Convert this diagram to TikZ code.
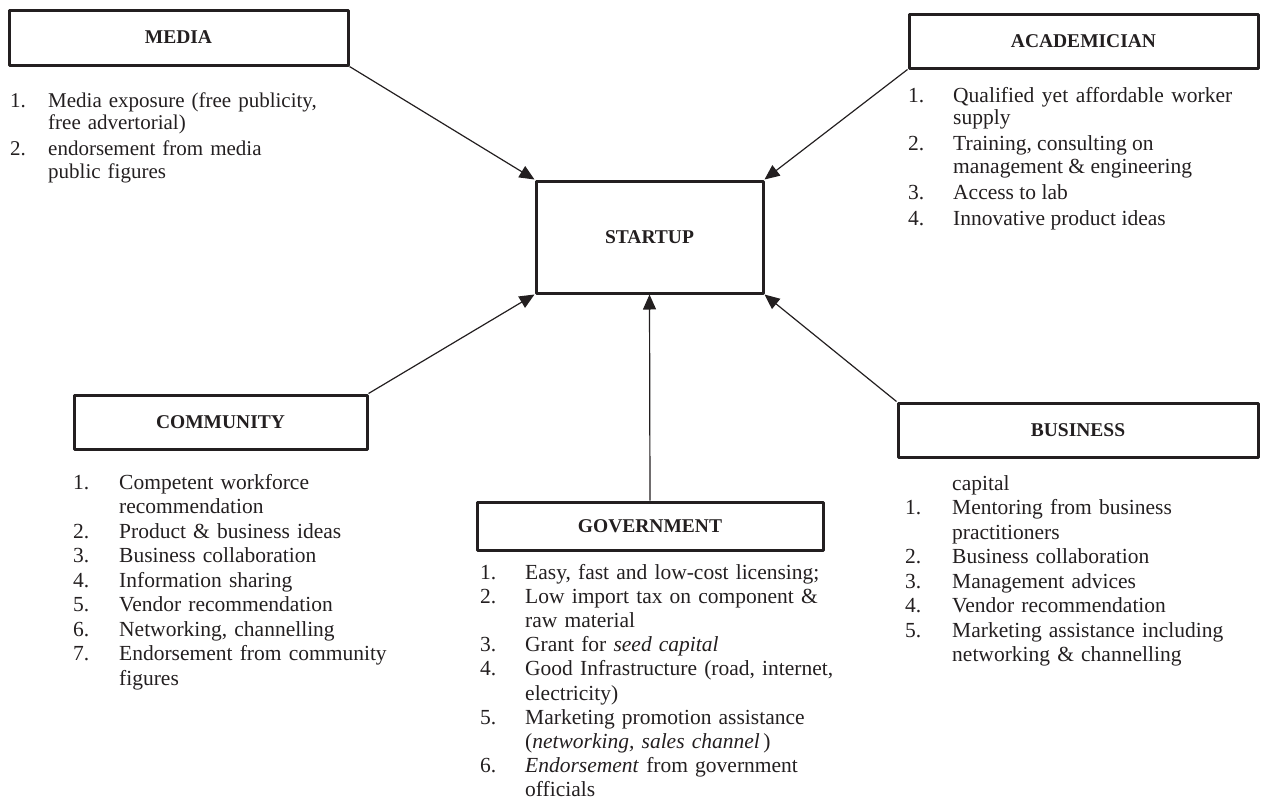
\documentclass[tikz,border=0pt]{standalone}
\usepackage{fontspec}
\setmainfont{Liberation Serif}
\usetikzlibrary{arrows.meta}
\definecolor{ink}{RGB}{35,31,32}
\newlength\labw
\newcommand\litem[2]{\noindent\hangindent=\labw\hangafter=1 \makebox[\labw][l]{#1}#2\par}
\begin{document}
\begin{tikzpicture}[x=1pt, y=-1pt, line join=round, >={Triangle[length=15pt,width=13pt]},
	actor/.style={draw=ink, line width=3pt, inner sep=0pt, text=ink, font=\fontsize{19.5}{22}\selectfont\bfseries},
	points/.style={anchor=base west, inner sep=0pt, text width=#1, align=left, text=ink, font=\fontsize{21.5}{24.5}\selectfont},
	link/.style={->, draw=ink, line width=1.2pt}]
	\useasboundingbox (0,0) rectangle (1261,803);
	\node[actor, minimum width=227pt, minimum height=112pt] (startup) at (649.5,237) {STARTUP};
	\node[actor, minimum width=339pt, minimum height=55pt] (media) at (178.5,37.5) {MEDIA};
	\node[actor, minimum width=349pt, minimum height=54pt] (acad) at (1083.5,41) {ACADEMICIAN};
	\node[actor, minimum width=293pt, minimum height=54pt] (comm) at (220.5,422) {COMMUNITY};
	\node[actor, minimum width=346pt, minimum height=48pt] (gov) at (650,526) {GOVERNMENT};
	\node[actor, minimum width=360pt, minimum height=54pt] (bus) at (1078,430) {BUSINESS};
	\draw[link] (media.south east) -- (startup.north west);
	\draw[link] (acad.south west) -- (startup.north east);
	\draw[link] (comm.north east) -- (startup.south west);
	\draw[link] (bus.north west) -- (startup.south east);
	\draw[link] (gov.north) -- (startup.south);
	\node[points=330pt, font=\fontsize{21}{22.5}\selectfont] (medialist) at (10,107) {\setlength\labw{38pt}\setlength\parskip{3.5pt}%
		\litem{1.}{Media exposure (free publicity,\newline free advertorial)}%
		\litem{2.}{endorsement from media\newline public figures}};
	\node[points=324pt, align=justify, font=\fontsize{21.5}{22.5}\selectfont] (acadlist) at (908,102) {\setlength\labw{45pt}\setlength\parskip{3.5pt}%
		\litem{1.}{Qualified yet affordable worker\linebreak supply}%
		\litem{2.}{Training, consulting on\newline management \& engineering}%
		\litem{3.}{Access to lab}%
		\litem{4.}{Innovative product ideas}};
	\node[points=330pt] (commlist) at (73,489) {\setlength\labw{46pt}%
		\litem{1.}{Competent workforce\newline recommendation}%
		\litem{2.}{Product \& business ideas}%
		\litem{3.}{Business collaboration}%
		\litem{4.}{Information sharing}%
		\litem{5.}{Vendor recommendation}%
		\litem{6.}{Networking, channelling}%
		\litem{7.}{Endorsement from community\newline figures}};
	\node[points=360pt, font=\fontsize{21.5}{24.2}\selectfont] (govlist) at (480,579) {\setlength\labw{45pt}%
		\litem{1.}{Easy, fast and low-cost licensing;}%
		\litem{2.}{Low import tax on component \&\newline raw material}%
		\litem{3.}{Grant for \textit{seed capital}}%
		\litem{4.}{Good Infrastructure (road, internet,\newline electricity)}%
		\litem{5.}{Marketing promotion assistance\newline (\textit{networking, sales channel}\,)}%
		\litem{6.}{\textit{Endorsement} from government\newline officials}};
	\node[points=350pt] (buslist) at (905,490) {\setlength\labw{47pt}%
		\litem{}{capital}%
		\litem{1.}{Mentoring from business\newline practitioners}%
		\litem{2.}{Business collaboration}%
		\litem{3.}{Management advices}%
		\litem{4.}{Vendor recommendation}%
		\litem{5.}{Marketing assistance including\newline networking \& channelling}};
\end{tikzpicture}
\end{document}
